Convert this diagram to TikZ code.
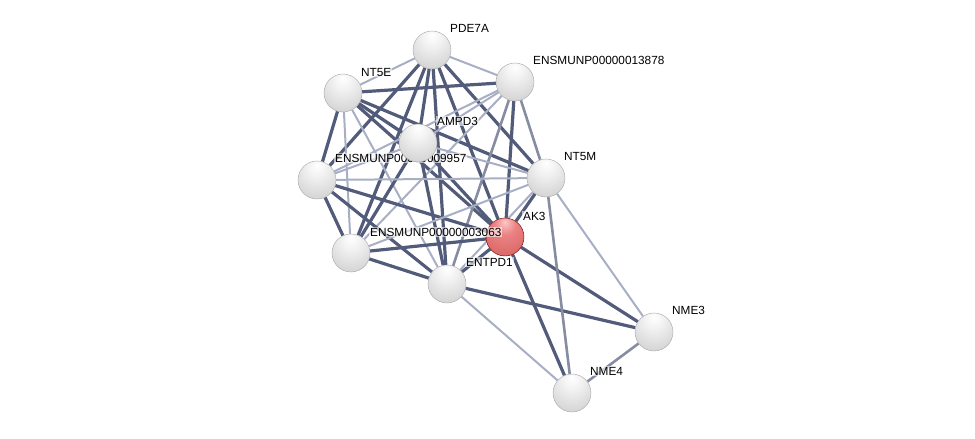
\documentclass[tikz,border=0pt]{standalone}
\usepackage{fontspec}
\setmainfont{Liberation Sans}
\usetikzlibrary{backgrounds}
\definecolor{edgedark}{RGB}{82,92,122}
\definecolor{edgelight}{RGB}{168,175,196}
\definecolor{rA}{RGB}{250,200,200}
\definecolor{rB}{RGB}{236,130,130}
\definecolor{rC}{RGB}{215,100,100}
\definecolor{rD}{RGB}{170,60,60}
\pgfdeclareradialshading{stringball}{\pgfpoint{0bp}{20bp}}{color(0bp)=(white); color(12bp)=(white!95!black); color(35bp)=(white!84!black); color(58bp)=(white!72!black); color(72bp)=(white!55!black); color(90bp)=(white!55!black)}
\pgfdeclareradialshading{redstringball}{\pgfpoint{0bp}{20bp}}{color(0bp)=(rA); color(14bp)=(rB); color(40bp)=(rC); color(70bp)=(rD); color(90bp)=(rD)}
\tikzset{
  ball/.style={circle, minimum size=38pt, inner sep=0pt, shading=stringball, draw=gray!70, line width=0.4pt},
  redball/.style={ball, shading=redstringball, draw=red!40!black},
  se/.style={draw=edgedark, line width=3.2pt},
  we/.style={draw=edgelight, line width=2pt},
  me/.style={draw=edgedark!70!white, line width=2.6pt},
  lab/.style={anchor=west, font=\fontsize{11.8}{13}\selectfont, inner sep=1pt, fill=white, fill opacity=0.6, text opacity=1}
}
\begin{document}
\begin{tikzpicture}[x=1pt,y=-1pt]
\useasboundingbox (0,0) rectangle (975,439);
% nodes
\node[ball] (P) at (432,50) {};
\node[lab] (lP) at (449,28) {PDE7A};
\node[ball] (X) at (515,82) {};
\node[lab] (lX) at (532,60) {ENSMUNP00000013878};
\node[ball] (N) at (343,93) {};
\node[lab] (lN) at (360,72) {NT5E};
\node[ball] (Q) at (317,180) {};
\node[lab] (lQ) at (334,158) {ENSMUNP00000009957};
\node[ball] (A) at (418,143) {};
\node[lab] (lA) at (436,121) {AMPD3};
\node[ball] (M) at (546,178) {};
\node[lab] (lM) at (563,156) {NT5M};
\node[redball] (K) at (505,237) {};
\node[lab] (lK) at (522,216) {AK3};
\node[ball] (R) at (351,253) {};
\node[lab] (lR) at (369,232) {ENSMUNP00000003063};
\node[ball] (T) at (447,284) {};
\node[lab] (lT) at (465,262) {ENTPD1};
\node[ball] (N3) at (654,332) {};
\node[lab] (lN3) at (671,310) {NME3};
\node[ball] (N4) at (572,393) {};
\node[lab] (lN4) at (589,371) {NME4};
\begin{scope}[on background layer]
% PDE7A
\draw[we] (P) -- (N);
\draw[we] (P) -- (X);
\draw[se] (P) -- (Q);
\draw[se] (P) -- (R);
\draw[se] (P) -- (A);
\draw[se] (P) -- (T);
\draw[se] (P) -- (K);
\draw[se] (P) -- (M);
% NT5E
\draw[se] (N) -- (X);
\draw[se] (N) -- (Q);
\draw[we] (N) -- (R);
\draw[we] (N) -- (T);
\draw[se] (N) -- (A);
\draw[se] (N) -- (K);
\draw[se] (N) -- (M);
% 13878
\draw[we] (X) -- (A);
\draw[we] (X) -- (Q);
\draw[we] (X) -- (R);
\draw[me] (X) -- (T);
\draw[se] (X) -- (K);
\draw[me] (X) -- (M);
% AMPD3
\draw[we] (A) -- (Q);
\draw[se] (A) -- (R);
\draw[se] (A) -- (T);
\draw[se] (A) -- (K);
\draw[we] (A) -- (M);
% 9957
\draw[we] (Q) -- (M);
\draw[se] (Q) -- (K);
\draw[se] (Q) -- (R);
\draw[se] (Q) -- (T);
% 3063
\draw[se] (R) -- (K);
\draw[se] (R) -- (T);
\draw[we] (R) -- (M);
% ENTPD1
\draw[se] (T) -- (K);
\draw[we] (T) -- (M);
\draw[se] (T) -- (N3);
\draw[we] (T) -- (N4);
% AK3
\draw[se] (K) -- (M);
\draw[se] (K) -- (N3);
\draw[se] (K) -- (N4);
% NT5M
\draw[we] (M) -- (N3);
\draw[me] (M) -- (N4);
% NME
\draw[me] (N3) -- (N4);
\end{scope}
\end{tikzpicture}
\end{document}
